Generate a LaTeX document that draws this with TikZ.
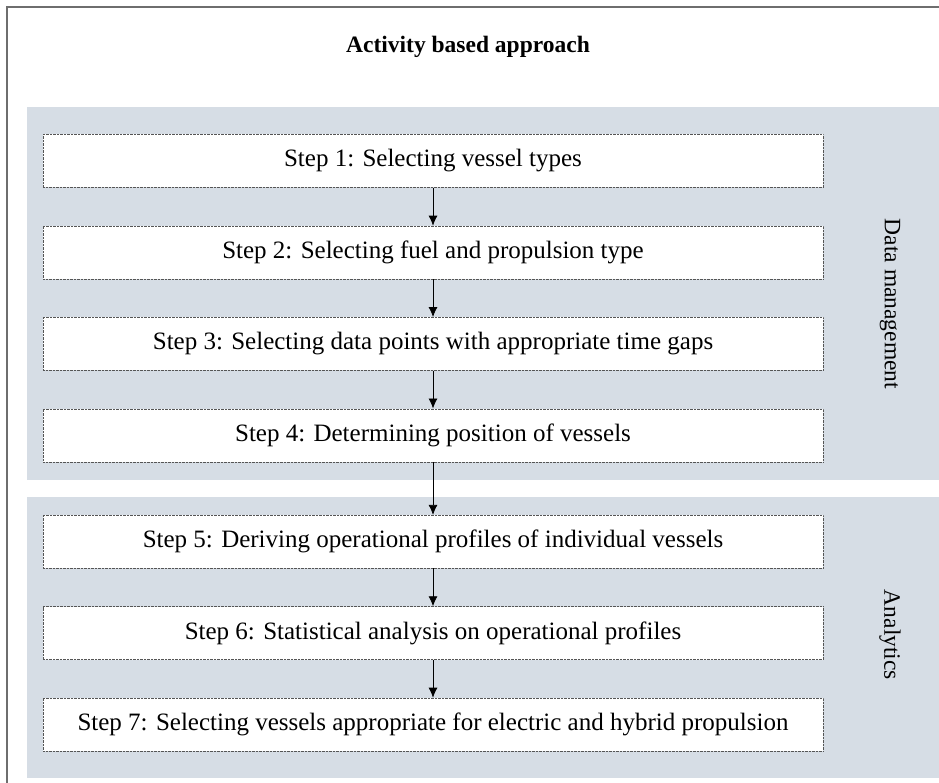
\documentclass[tikz,border=0pt]{standalone}
\usepackage{fontspec}
\setmainfont{Liberation Serif}
\usetikzlibrary{arrows.meta,positioning,backgrounds}
\definecolor{panel}{HTML}{D6DDE5}
\definecolor{frame}{HTML}{6E6E6E}
\definecolor{dots}{HTML}{555555}
\tikzset{
  stepbox/.style={draw=dots,densely dotted,fill=white,minimum width=780pt,minimum height=53pt,font=\fontsize{25}{30}\selectfont,inner sep=0pt},
  flow/.style={-{Latex[length=10pt,width=9pt]},thick,draw=black},
  side/.style={rotate=-90,font=\fontsize{23.5}{28}\selectfont}
}
\begin{document}
\begin{tikzpicture}[x=1pt,y=1pt,node distance=38pt]
\useasboundingbox (0,0) rectangle (939,-783);
\clip (0,0) rectangle (939,-783);
\draw[frame,line width=1.5pt] (7,-790) -- (7,-7) -- (945,-7);
\fill[panel] (27,-107) rectangle (945,-480);
\fill[panel] (27,-497) rectangle (945,-778);
\node[font=\bfseries\fontsize{23.5}{28}\selectfont] (title) at (468,-47) {Activity based approach};

\node[stepbox] (s1) at (433,-161) {Step 1: Selecting vessel types};
\node[stepbox,below=of s1] (s2) {Step 2: Selecting fuel and propulsion type};
\node[stepbox,below=of s2] (s3) {Step 3: Selecting data points with appropriate time gaps};
\node[stepbox,below=of s3] (s4) {Step 4: Determining position of vessels};
\node[stepbox,below=53pt of s4] (s5) {Step 5: Deriving operational profiles of individual vessels};
\node[stepbox,below=of s5] (s6) {Step 6: Statistical analysis on operational profiles};
\node[stepbox,below=of s6] (s7) {Step 7: Selecting vessels appropriate for electric and hybrid propulsion};

\node[side] (datamgmt) at (890,-304) {Data management};
\node[side] (analytics) at (890,-635) {Analytics};

\draw[flow] (s1) -- (s2);
\draw[flow] (s2) -- (s3);
\draw[flow] (s3) -- (s4);
\draw[flow] (s4) -- (s5);
\draw[flow] (s5) -- (s6);
\draw[flow] (s6) -- (s7);
\end{tikzpicture}
\end{document}
